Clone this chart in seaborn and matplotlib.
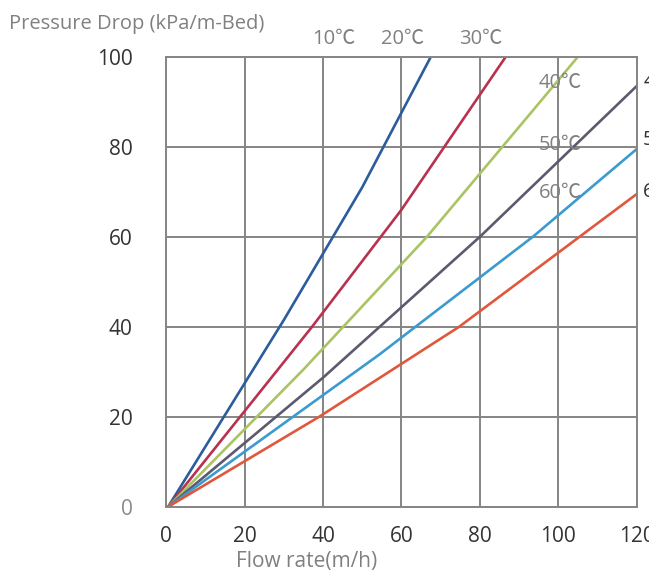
import pandas as pd
import numpy as np
import matplotlib.pyplot as plt
import seaborn as sns

# Curvas (vazao x perda de carga)
temps = ['10℃', '20℃', '30℃', '40℃', '50℃', '60℃']
flow_10 = [0.5, 30, 50, 67.5]
dp_10 = [0, 41.5, 71, 100]
flow_20 = [0.5, 37.2, 60, 86.6]
dp_20 = [0, 40, 66, 100]
flow_30 = [0.5, 35, 66.5, 105]
dp_30 = [0, 30.5, 60, 100]
flow_40 = [0.5, 40, 80, 120]
dp_40 = [0, 28.7, 60, 93.5]
flow_50 = [0.5, 54.3, 93.5, 120]
dp_50 = [0, 33.8, 60, 79.5]
flow_60 = [0.5, 39, 74.7, 120]
dp_60 = [0, 20, 40, 69.5]

cores = ['#2b5c9c', '#b8324f', '#a9c463', '#5b5a6e', '#3b9bd1', '#e0583c']

flows = [flow_10, flow_20, flow_30, flow_40, flow_50, flow_60]
dps = [dp_10, dp_20, dp_30, dp_40, dp_50, dp_60]
df = pd.concat([pd.DataFrame({'flow': f, 'dp': d, 'temp': t})
                for f, d, t in zip(flows, dps, temps)], ignore_index=True)

sns.set_style('white')
plt.rcParams['font.family'] = ['Open Sans', 'Noto Sans CJK KR', 'DejaVu Sans']

fig = plt.figure(figsize=(6.49, 5.74), dpi=100)
ax = fig.add_axes([0.256, 0.117, 0.725, 0.784])

sns.lineplot(data=df, x='flow', y='dp', hue='temp', palette=cores,
             sort=False, estimator=None, linewidth=1.9, legend=False, ax=ax)

ax.set_xlim(0, 120)
ax.set_ylim(0, 100)
ax.set_xticks(range(0, 121, 20))
ax.set_yticks(range(0, 101, 20))
ax.grid(True, color='#858585', linewidth=1.4)
ax.set_axisbelow(True)
for s in ax.spines.values():
    s.set_color('#858585')
    s.set_linewidth(1.4)
ax.tick_params(axis='x', length=0, pad=14, labelsize=15, labelcolor='#333333')
ax.tick_params(axis='y', length=0, pad=24, labelsize=15, labelcolor='#333333')
ax.get_yticklabels()[0].set_color('#8a8a8a')
ax.set_xlabel('')
ax.set_ylabel('')

cinza = '#808080'
fig.text(0.014, 0.958, 'Pressure Drop (kPa/m-Bed)', fontsize=14.5, color=cinza, va='center')
fig.text(0.473, 0.021, 'Flow rate(m/h)', fontsize=15, color=cinza, ha='center', va='center')

# rotulos de temperatura
fig.text(0.515, 0.932, '10℃', fontsize=14.5, color=cinza, ha='center', va='center')
fig.text(0.621, 0.932, '20℃', fontsize=14.5, color=cinza, ha='center', va='center')
fig.text(0.740, 0.932, '30℃', fontsize=14.5, color=cinza, ha='center', va='center')
fig.text(0.863, 0.855, '40℃', fontsize=14.5, color=cinza, ha='center', va='center')
fig.text(0.863, 0.747, '50℃', fontsize=14.5, color=cinza, ha='center', va='center')
fig.text(0.863, 0.664, '60℃', fontsize=14.5, color=cinza, ha='center', va='center')
# rotulos cortados na borda direita
fig.text(0.991, 0.857, '40℃', fontsize=14.5, color='#333333', va='center')
fig.text(0.991, 0.756, '50℃', fontsize=14.5, color='#333333', va='center')
fig.text(0.991, 0.666, '60℃', fontsize=14.5, color='#333333', va='center')

plt.savefig('out.png', dpi=100)
